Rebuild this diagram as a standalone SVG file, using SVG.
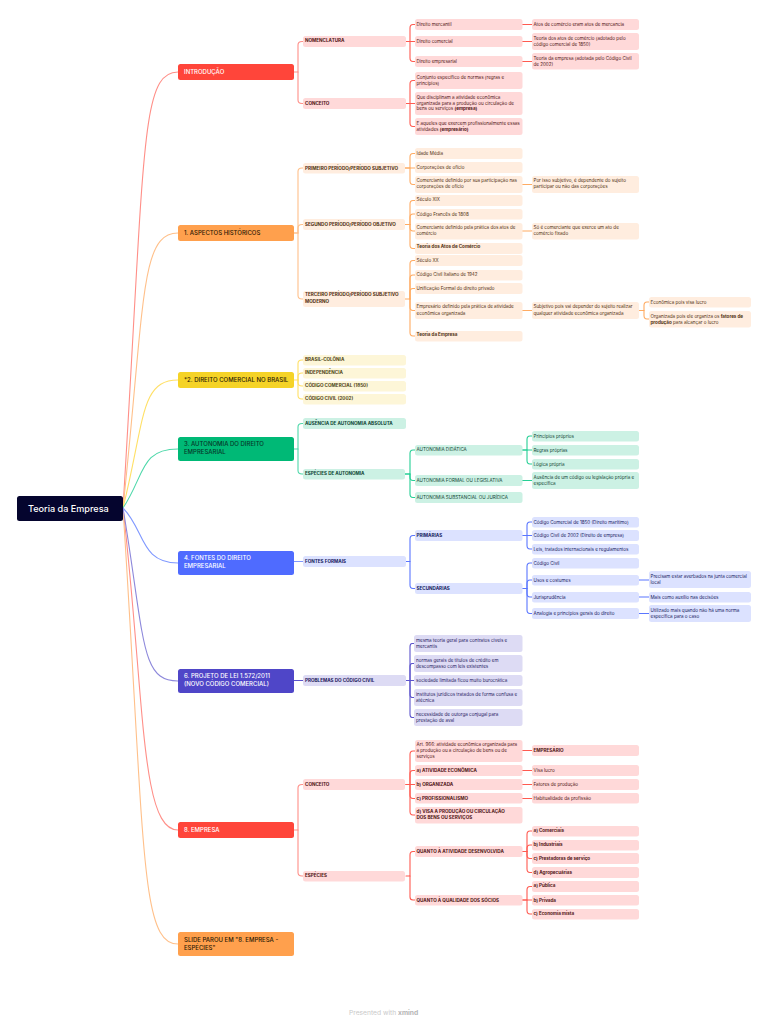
<svg xmlns="http://www.w3.org/2000/svg" width="768" height="1024" viewBox="0 0 768 1024">
<style>
text{font-family:Inter,"Liberation Sans",sans-serif;font-size:4.55px;fill:#4a2020}
.m{font-size:6px;font-weight:500}
.b{font-weight:700}
.h{font-size:4.6px;font-weight:700}
.w{fill:#fff}
.k{fill:#1f1a0a}
path{fill:none;stroke-width:1.1;stroke-linecap:round}
.red rect{fill:#ffd9d9}.red text{fill:#4f1414}
.ora rect{fill:#ffeddf}.ora text{fill:#4f3010}
.yel rect{fill:#fdf6d8}.yel text{fill:#4f4515}
.gre rect{fill:#ccf1e4}.gre text{fill:#0c4432}
.blu rect{fill:#dce2ff}.blu text{fill:#14205e}
.ind rect{fill:#dddbf4}.ind text{fill:#1d1a5e}
rect{rx:2.5px}
#root rect{fill:#05052e}#root text{fill:#fff;font-size:9.1px;font-weight:500}
.red rect.mr{fill:#ff453a}.ora rect.mr{fill:#ffa04d}.yel rect.mr{fill:#f5d327}.gre rect.mr{fill:#00b976}.blu rect.mr{fill:#4f6bff}.ind rect.mr{fill:#4f46c8}
.red text.w,.blu text.w,.ind text.w{fill:#fff}
.ora text.k,.yel text.k{fill:#2b1a05}.gre text.k{fill:#06382a}
.cr path{stroke:#ff8f88}.co path{stroke:#ffc08a}.cy path{stroke:#ffe066}.cg path{stroke:#4fd8aa}.cb path{stroke:#7f98ff}.ci path{stroke:#8d88db}
.r2 path{stroke:#ff5a50}.o2 path{stroke:#ffab62}.g2 path{stroke:#26cf95}.b2 path{stroke:#5a76ff}.i2 path{stroke:#5c54cc}
</style>
<rect width="768" height="1024" fill="#fff" style="rx:0"/>
<g id="connectors">
<g class="cr"><path d="M123 508 C145 150 140 72 178 72"/><path d="M123 508 C145 700 140 830 178 830"/>
<path d="M294 72H298V45Q298 41.500 302 41.500H303"/><path d="M298 72V100Q298 103.500 302 103.500H303"/>
<path d="M294 830H298V788Q298 784.500 302 784.500H303"/><path d="M298 830V872.500Q298 876 302 876H303"/></g>
<g class="r2">
<path d="M406 41.500H410V28Q410 24.500 413 24.500H415"/><path d="M406 41.500H415"/><path d="M410 41.500V58Q410 61.500 413 61.500H415"/>
<path d="M522 24.500H532"/><path d="M522 41.500H532"/><path d="M522 61.500H532"/>
<path d="M406 103.500H410V84Q410 80.500 413 80.500H415"/><path d="M406 103.500H415"/><path d="M410 103.500V123Q410 126.500 413 126.500H415"/>
<path d="M406 784.500H410V754.500Q410 751 413 751H415"/><path d="M406 784.500H410V774Q410 770.500 413 770.500H415"/><path d="M406 784.500H415"/><path d="M410 784.500V795Q410 798.500 413 798.500H415"/><path d="M410 784.500V811.500Q410 815 413 815H415"/>
<path d="M522 750.500H532"/><path d="M522 770.500H532"/><path d="M522 784.500H532"/><path d="M522 798.500H532"/>
<path d="M406 876H410V855Q410 851.500 413 851.500H415"/><path d="M410 876V897Q410 900 413 900H415"/>
<path d="M522 851.500H527V834.500Q527 831 530 831H532"/><path d="M527 851.500V848.500Q527 845 530 845H532"/><path d="M527 851.500V855Q527 858.500 530 858.500H532"/><path d="M527 851.500V869Q527 872.500 530 872.500H532"/>
<path d="M522 900H527V890Q527 886.500 530 886.500H532"/><path d="M522 900H532"/><path d="M527 900V910.500Q527 914 530 914H532"/></g>
<g class="co"><path d="M123 508 C145 300 140 233 178 233"/><path d="M123 508 C145 850 140 944 178 944"/>
<path d="M294 233H298V171.500Q298 168 302 168H303"/><path d="M294 233H298V228Q298 224.500 302 224.500H303"/><path d="M298 233V295.500Q298 299 302 299H303"/></g>
<g class="o2">
<path d="M405 168H410V157Q410 153.500 413 153.500H415"/><path d="M405 168H415"/><path d="M410 168V181Q410 184.500 413 184.500H415"/><path d="M522 184.500H532"/>
<path d="M405 224.500H410V204Q410 200.500 413 200.500H415"/><path d="M410 224.500V217.500Q410 214 413 214H415"/><path d="M405 224.500H410V227.500Q410 231 413 231H415"/><path d="M410 224.500V245Q410 248.500 413 248.500H415"/><path d="M522 231H532"/>
<path d="M405 299H410V264Q410 260.500 413 260.500H415"/><path d="M410 299V278.500Q410 275 413 275H415"/><path d="M410 299V292Q410 288.500 413 288.500H415"/><path d="M410 299V307Q410 310.500 413 310.500H415"/><path d="M410 299V332.500Q410 336 413 336H415"/>
<path d="M522 310.500H532"/><path d="M639 310.500H644V305.500Q644 302 647 302H649"/><path d="M644 310.500V315.500Q644 319 647 319H649"/></g>
<g class="cy"><path d="M123 508 C145 420 140 380 178 380"/>
<path d="M294 380H298V363.500Q298 360 302 360H303"/><path d="M298 380V376.500Q298 373 302 373H303"/><path d="M298 380V382.500Q298 386 302 386H303"/><path d="M298 380V395.500Q298 399 302 399H303"/></g>
<g class="cg"><path d="M123 508 C145 475 140 449 178 449"/>
<path d="M294 449H298V427Q298 423.500 302 423.500H303"/><path d="M298 449V470.500Q298 474 302 474H303"/></g>
<g class="g2">
<path d="M405 474H410V453.500Q410 450 413 450H415"/><path d="M405 474H410V477Q410 480.500 413 480.500H415"/><path d="M410 474V494Q410 497.500 413 497.500H415"/>
<path d="M522 450H527V439.500Q527 436 530 436H532"/><path d="M522 450H532"/><path d="M527 450V460.500Q527 464 530 464H532"/><path d="M522 480.500H532"/></g>
<g class="cb"><path d="M123 508 C145 530 140 563 178 563"/>
<path d="M294 561.500H303"/></g>
<g class="b2">
<path d="M406 561.500H410V539Q410 535.500 413 535.500H415"/><path d="M410 561.500V585Q410 588.500 413 588.500H415"/>
<path d="M522 535.500H527V525.500Q527 522 530 522H532"/><path d="M522 535.500H532"/><path d="M527 535.500V545.500Q527 549 530 549H532"/>
<path d="M522 588.500H527V566.500Q527 563 530 563H532"/><path d="M527 588.500V583.500Q527 580 530 580H532"/><path d="M527 588.500V593.500Q527 597 530 597H532"/><path d="M527 588.500V610Q527 613.500 530 613.500H532"/>
<path d="M639 580H649"/><path d="M639 597H649"/><path d="M639 613.500H649"/></g>
<g class="ci"><path d="M123 508 C145 640 140 681 178 681"/></g>
<g class="i2"><path d="M294 680.500H303"/>
<path d="M406 680.500H410V647Q410 643.500 412 643.500H414"/><path d="M410 680.500V667Q410 663.500 412 663.500H414"/><path d="M406 680.500H414"/><path d="M410 680.500V694Q410 697.500 412 697.500H414"/><path d="M410 680.500V714Q410 717.500 412 717.500H414"/></g>
</g>
<g id="root"><rect x="17" y="496" width="106" height="25"/><text x="28" y="511.900">Teoria da Empresa</text></g>

<g class="red">
<g id="intro"><rect class="mr" x="178" y="64" width="116" height="16"/><text class="m w" x="184" y="74.200">INTRODUÇÃO</text></g>
<g id="nomenclatura"><rect x="303" y="36" width="103" height="11"/><text class="h" x="305" y="42.200">NOMENCLATURA</text></g>
<g id="conceito1"><rect x="303" y="98" width="103" height="11"/><text class="h" x="305" y="104.500">CONCEITO</text></g>
<g id="n1"><rect x="415" y="19" width="107.500" height="11"/><text x="416.500" y="25.500">Direito mercantil</text></g>
<g id="n2"><rect x="532" y="19" width="107" height="11"/><text x="533.500" y="25.500">Atos de comércio eram atos de mercancia</text></g>
<g id="n3"><rect x="415" y="36" width="107.500" height="11"/><text x="416.500" y="43">Direito comercial</text></g>
<g id="n4"><rect x="532" y="33" width="107" height="17"/><text x="533.500" y="39.800">Teoria dos atos de comércio (adotado pelo</text><text x="533.500" y="45.700">código comercial de 1850)</text></g>
<g id="n5"><rect x="415" y="56" width="107.500" height="11"/><text x="416.500" y="62.800">Direito empresarial</text></g>
<g id="n6"><rect x="532" y="53" width="107" height="16.500"/><text x="533.500" y="59.600">Teoria da empresa (adotada pelo Código Civil</text><text x="533.500" y="65.500">de 2002)</text></g>
<g id="n7"><rect x="415" y="72" width="107.500" height="17"/><text x="416.500" y="78.600">Conjunto específico de normas (regras e</text><text x="416.500" y="84.500">princípios)</text></g>
<g id="n8"><rect x="415" y="92" width="107.500" height="23"/><text x="416.500" y="98.600">Que disciplinam a atividade econômica</text><text x="416.500" y="104.500">organizada para a produção ou circulação de</text><text x="416.500" y="110.400">bens ou serviços <tspan class="b">(empresa)</tspan></text></g>
<g id="n9"><rect x="415" y="118" width="107.500" height="17"/><text x="416.500" y="124.500">E aqueles que exercem profissionalmente essas</text><text x="416.500" y="130.500">atividades <tspan class="b">(empresário)</tspan></text></g>
</g>

<g class="ora">
<g id="hist"><rect class="mr" x="178" y="225" width="116" height="16"/><text class="m k" x="184" y="235.200">1. ASPECTOS HISTÓRICOS</text></g>
<g id="p1"><rect x="303" y="163" width="102" height="10.500"/><text class="h" x="305" y="168.300" dy="1.700">PRIMEIRO PERÍODO/PERÍODO SUBJETIVO</text></g>
<g id="p2"><rect x="303" y="219" width="102" height="11"/><text class="h" x="305" y="224.500" dy="1.700">SEGUNDO PERÍODO/PERÍODO OBJETIVO</text></g>
<g id="p3"><rect x="303" y="291" width="102" height="16"/><text class="h" x="305" y="296.200">TERCEIRO PERÍODO/PERÍODO SUBJETIVO</text><text class="h" x="305" y="303">MODERNO</text></g>
<g id="o1"><rect x="415" y="148" width="107.500" height="11"/><text x="416.500" y="155">Idade Média</text></g>
<g id="o2"><rect x="415" y="162" width="107.500" height="11"/><text x="416.500" y="169.300">Corporações de ofício</text></g>
<g id="o3"><rect x="415" y="176" width="107.500" height="17"/><text x="416.500" y="182.200">Comerciante definido por sua participação nas</text><text x="416.500" y="188.300">corporações de ofício</text></g>
<g id="o4"><rect x="532" y="176" width="107" height="17"/><text x="533.500" y="182.200">Por isso subjetivo, é dependente do sujeito</text><text x="533.500" y="188.300">participar ou não das corporações</text></g>
<g id="o5"><rect x="415" y="195" width="107.500" height="11"/><text x="416.500" y="201.200">Século XIX</text></g>
<g id="o6"><rect x="415" y="209" width="107.500" height="10.500"/><text x="416.500" y="215.500">Código Francês de 1808</text></g>
<g id="o7"><rect x="415" y="223" width="107.500" height="16.500"/><text x="416.500" y="229">Comerciante definido pela prática dos atos de</text><text x="416.500" y="235">comércio</text></g>
<g id="o8"><rect x="532" y="223" width="107" height="16.500"/><text x="533.500" y="229">Só é comerciante que exerce um ato de</text><text x="533.500" y="235">comércio fixado</text></g>
<g id="o9"><rect x="415" y="243" width="107.500" height="11"/><text class="b" x="416.500" y="248.200">Teoria dos Atos de Comércio</text></g>
<g id="o10"><rect x="415" y="255" width="107.500" height="11"/><text x="416.500" y="261.500">Século XX</text></g>
<g id="o11"><rect x="415" y="270" width="107.500" height="10.500"/><text x="416.500" y="276">Código Civil Italiano de 1942</text></g>
<g id="o12"><rect x="415" y="283" width="107.500" height="11"/><text x="416.500" y="289.500">Unificação Formal do direito privado</text></g>
<g id="o13"><rect x="415" y="302" width="107.500" height="17"/><text x="416.500" y="308.200">Empresário definido pela prática de atividade</text><text x="416.500" y="314.800">econômica organizada</text></g>
<g id="o14"><rect x="532" y="302" width="107" height="17"/><text x="533.500" y="308.200">Subjetivo pois vai depender do sujeito realizar</text><text x="533.500" y="314.800">qualquer atividade econômica organizada</text></g>
<g id="o15"><rect x="649" y="297" width="102" height="10.500"/><text x="650.500" y="303.700">Econômica pois visa lucro</text></g>
<g id="o16"><rect x="649" y="311" width="102" height="16.500"/><text x="650.500" y="317.500">Organizada pois ele organiza os <tspan class="b">fatores de</tspan></text><text x="650.500" y="324"><tspan class="b">produção</tspan> para alcançar o lucro</text></g>
<g id="o17"><rect x="415" y="331" width="107.500" height="10.500"/><text class="b" x="416.500" y="336">Teoria da Empresa</text></g>
</g>

<g class="yel">
<g id="com"><rect class="mr" x="178" y="372" width="116" height="16"/><text class="m k" x="184" y="382">*2. DIREITO COMERCIAL NO BRASIL</text></g>
<g id="y1"><rect x="303" y="355" width="103" height="10.500"/><text class="h" x="305" y="361">BRASIL-COLÔNIA</text></g>
<g id="y2"><rect x="303" y="368" width="103" height="10.500"/><text class="h" x="305" y="374">INDEPENDÊNCIA</text></g>
<g id="y3"><rect x="303" y="381" width="103" height="10.500"/><text class="h" x="305" y="386.500">CÓDIGO COMERCIAL (1850)</text></g>
<g id="y4"><rect x="303" y="394" width="103" height="10.500"/><text class="h" x="305" y="399.800">CÓDIGO CIVIL (2002)</text></g>
</g>

<g class="gre">
<g id="aut"><rect class="mr" x="178" y="437" width="116" height="24"/><text class="m k" x="184" y="446.300">3. AUTONOMIA DO DIREITO</text><text class="m k" x="184" y="454.300">EMPRESARIAL</text></g>
<g id="g1"><rect x="303" y="418" width="103" height="11"/><text class="h" x="305" y="424.500">AUSÊNCIA DE AUTONOMIA ABSOLUTA</text></g>
<g id="g2"><rect x="303" y="469" width="102" height="10.500"/><text class="h" x="305" y="474.500">ESPÉCIES DE AUTONOMIA</text></g>
<g id="g3"><rect x="415" y="445" width="107.500" height="10.500"/><text x="416.500" y="451.200">AUTONOMIA DIDÁTICA</text></g>
<g id="g4"><rect x="415" y="475" width="107.500" height="11"/><text x="416.500" y="482">AUTONOMIA FORMAL OU LEGISLATIVA</text></g>
<g id="g5"><rect x="415" y="492" width="107.500" height="11"/><text x="416.500" y="498.800">AUTONOMIA SUBSTANCIAL OU JURÍDICA</text></g>
<g id="g6"><rect x="532" y="431" width="107" height="10.500"/><text x="533.500" y="437.500">Princípios próprios</text></g>
<g id="g7"><rect x="532" y="445" width="107" height="10.500"/><text x="533.500" y="451.500">Regras próprias</text></g>
<g id="g8"><rect x="532" y="459" width="107" height="10.500"/><text x="533.500" y="465.500">Lógica própria</text></g>
<g id="g9"><rect x="532" y="472" width="107" height="17"/><text x="533.500" y="478.500">Ausência de um código ou legislação própria e</text><text x="533.500" y="484.500">específica</text></g>
</g>

<g class="blu">
<g id="fon"><rect class="mr" x="178" y="551" width="116" height="24"/><text class="m w" x="184" y="560">4. FONTES DO DIREITO</text><text class="m w" x="184" y="568">EMPRESARIAL</text></g>
<g id="b1"><rect x="303" y="556" width="103" height="11"/><text class="h" x="305" y="563">FONTES FORMAIS</text></g>
<g id="b2"><rect x="415" y="530" width="107.500" height="11"/><text class="h" x="416.500" y="536.500">PRIMÁRIAS</text></g>
<g id="b3"><rect x="415" y="583" width="107.500" height="11"/><text class="h" x="416.500" y="589.500">SECUNDÁRIAS</text></g>
<g id="b4"><rect x="532" y="517" width="107" height="10.500"/><text x="533.500" y="523.500">Código Comercial de 1850 (Direito marítimo)</text></g>
<g id="b5"><rect x="532" y="530" width="107" height="11"/><text x="533.500" y="537">Código Civil de 2002 (Direito de empresa)</text></g>
<g id="b6"><rect x="532" y="544" width="107" height="10.500"/><text x="533.500" y="550.500">Leis, tratados internacionais e regulamentos</text></g>
<g id="b7"><rect x="532" y="558" width="107" height="10.500"/><text x="533.500" y="564.500">Código Civil</text></g>
<g id="b8"><rect x="532" y="575" width="107" height="10.500"/><text x="533.500" y="581.500">Usos e costumes</text></g>
<g id="b9"><rect x="532" y="592" width="107" height="10.500"/><text x="533.500" y="598.500">Jurisprudência</text></g>
<g id="b10"><rect x="532" y="608" width="107" height="11"/><text x="533.500" y="615">Analogia e princípios gerais do direito</text></g>
<g id="b11"><rect x="649" y="571" width="102" height="17"/><text x="650.500" y="577.800">Precisam estar averbados na junta comercial</text><text x="650.500" y="583.800">local</text></g>
<g id="b12"><rect x="649" y="592" width="102" height="10.500"/><text x="650.500" y="598.500">Mais como auxílio nas decisões</text></g>
<g id="b13"><rect x="649" y="605" width="102" height="17"/><text x="650.500" y="611.500">Utilizado mais quando não há uma norma</text><text x="650.500" y="618">específica para o caso</text></g>
</g>

<g class="ind">
<g id="proj"><rect class="mr" x="178" y="669" width="116" height="24"/><text class="m w" x="184" y="678.300">6. PROJETO DE LEI 1.572/2011</text><text class="m w" x="184" y="686.300">(NOVO CÓDIGO COMERCIAL)</text></g>
<g id="i1"><rect x="303" y="675" width="103" height="11"/><text class="h" x="305" y="681.500">PROBLEMAS DO CÓDIGO CIVIL</text></g>
<g id="i2"><rect x="414" y="635" width="108.500" height="17"/><text x="416" y="641.500">mesma teoria geral para contratos civeis e</text><text x="416" y="648">mercantis</text></g>
<g id="i3"><rect x="414" y="655" width="108.500" height="17"/><text x="416" y="661.500">normas gerais de títulos de crédito em</text><text x="416" y="668">descompasso com leis existentes</text></g>
<g id="i4"><rect x="414" y="675" width="108.500" height="11"/><text x="416" y="681.500">sociedade limitada ficou muito burocrática</text></g>
<g id="i5"><rect x="414" y="689" width="108.500" height="17"/><text x="416" y="695.500">institutos jurídicos tratados de forma confusa e</text><text x="416" y="702">atécnica</text></g>
<g id="i6"><rect x="414" y="709" width="108.500" height="17"/><text x="416" y="715.500">necessidade de outorga conjugal para</text><text x="416" y="722">prestação de aval</text></g>
</g>

<g class="red">
<g id="emp"><rect class="mr" x="178" y="822" width="116" height="16"/><text class="m w" x="184" y="832">8. EMPRESA</text></g>
<g id="r1"><rect x="303" y="779" width="102" height="11"/><text class="h" x="305" y="785.500">CONCEITO</text></g>
<g id="r2"><rect x="303" y="871" width="102" height="10.500"/><text class="h" x="305" y="876.800">ESPÉCIES</text></g>
<g id="r3"><rect x="415" y="740" width="107.500" height="22"/><text x="416.500" y="746.200">Art. 966: atividade econômica organizada para</text><text x="416.500" y="751.800">a produção ou a circulação de bens ou de</text><text x="416.500" y="758">serviços</text></g>
<g id="r4"><rect x="415" y="765" width="107.500" height="11"/><text class="h" x="416.500" y="772">a) ATIVIDADE ECONÔMICA</text></g>
<g id="r5"><rect x="415" y="779" width="107.500" height="11"/><text class="h" x="416.500" y="785.500">b) ORGANIZADA</text></g>
<g id="r6"><rect x="415" y="793" width="107.500" height="10.500"/><text class="h" x="416.500" y="799.500">c) PROFISSIONALISMO</text></g>
<g id="r7"><rect x="415" y="807" width="107.500" height="16.500"/><text class="h" x="416.500" y="813">d) VISA A PRODUÇÃO OU CIRCULAÇÃO</text><text class="h" x="416.500" y="819.300">DOS BENS OU SERVIÇOS</text></g>
<g id="r8"><rect x="532" y="745" width="107" height="11"/><text class="h" x="533.500" y="751.800">EMPRESÁRIO</text></g>
<g id="r9"><rect x="532" y="765" width="107" height="11"/><text x="533.500" y="772">Visa lucro</text></g>
<g id="r10"><rect x="532" y="779" width="107" height="11"/><text x="533.500" y="785.500">Fatores de produção</text></g>
<g id="r11"><rect x="532" y="793" width="107" height="10.500"/><text x="533.500" y="799.800">Habitualidade da profissão</text></g>
<g id="r12"><rect x="415" y="846" width="107.500" height="11"/><text class="h" x="416.500" y="852.500">QUANTO À ATIVIDADE DESENVOLVIDA</text></g>
<g id="r13"><rect x="415" y="895" width="107.500" height="10.500"/><text class="h" x="416.500" y="901.500">QUANTO À QUALIDADE DOS SÓCIOS</text></g>
<g id="r14"><rect x="532" y="826" width="107" height="10.500"/><text class="b" x="533.500" y="832">a) Comerciais</text></g>
<g id="r15"><rect x="532" y="840" width="107" height="10.500"/><text class="b" x="533.500" y="845.800">b) Industriais</text></g>
<g id="r16"><rect x="532" y="853" width="107" height="11"/><text class="b" x="533.500" y="859.900">c) Prestadoras de serviço</text></g>
<g id="r17"><rect x="532" y="867" width="107" height="11"/><text class="b" x="533.500" y="873.600">d) Agropecuárias</text></g>
<g id="r18"><rect x="532" y="881" width="107" height="11"/><text class="b" x="533.500" y="887.200">a) Pública</text></g>
<g id="r19"><rect x="532" y="895" width="107" height="10.500"/><text class="b" x="533.500" y="901.500">b) Privada</text></g>
<g id="r20"><rect x="532" y="909" width="107" height="10.500"/><text class="b" x="533.500" y="914.800">c) Economia mista</text></g>
</g>

<g class="ora">
<g id="slide"><rect class="mr" x="178" y="932" width="116" height="24"/><text class="m k" x="184" y="942">SLIDE PAROU EM "8. EMPRESA -</text><text class="m k" x="184" y="950">ESPÉCIES"</text></g>
</g>
<g id="footer"><text x="349" y="1014.500" style="font-size:6.700px;fill:#c9c9c9">Presented with <tspan style="font-weight:700;fill:#b5b5b5">xmind</tspan></text></g>
</svg>
